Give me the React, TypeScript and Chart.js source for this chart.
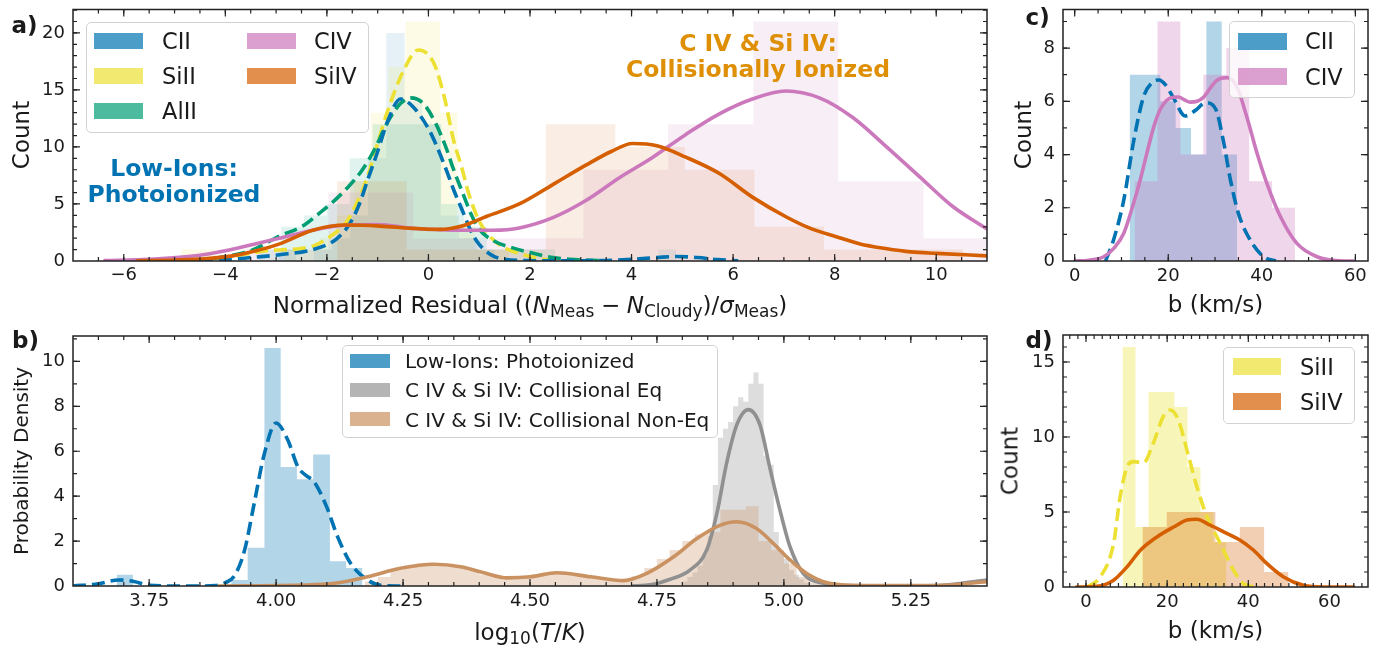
import React, { useEffect, useRef } from "react";
import { Chart, registerables } from "chart.js";

Chart.register(...registerables);

const FONT = '"DejaVu Sans", "Liberation Sans", Arial, sans-serif';
const INK = "#1a1a1a";

// seaborn "colorblind" palette
const C_BLUE = [1, 115, 178];
const C_YELLOW = [236, 225, 51];
const C_GREEN = [2, 158, 115];
const C_PINK = [204, 120, 188];
const C_RED = [213, 94, 0];
const C_ORANGE = [222, 143, 5];
const C_GRAY = [144, 144, 144];
const C_TAN = [202, 145, 97];
const rgba = (c: number[], a = 1) => `rgba(${c[0]},${c[1]},${c[2]},${a})`;

// ---------------- a) normalized residuals ----------------
const resXTicks = [-6, -4, -2, 0, 2, 4, 6, 8, 10];
const resYTicks = [0, 5, 10, 15, 20];

const resCIIEdges = [-2.97, -2.61, -2.26, -1.9, -1.54, -1.19, -0.83, -0.47, -0.12, 0.24, 0.6, 0.96, 1.31, 4.53, 4.88];
const resCIICounts = [1, 0, 1, 2, 4, 9, 20, 14, 12, 4, 2, 1, 0, 1];
const resSiIIEdges = [-4.87, -4.53, -4.19, -2.83, -2.49, -2.15, -1.81, -1.47, -1.13, -0.79, -0.45, -0.11, 0.23, 0.57, 0.91, 1.25, 1.59];
const resSiIICounts = [1, 1, 0, 1, 1, 2, 4, 7, 13, 17, 21, 21, 13, 3, 1, 1];
const resAlIIEdges = [-3.35, -2.9, -2.45, -2.0, -1.55, -1.1, -0.65, -0.2, 0.25, 0.7, 1.15, 1.6, 2.05, 2.5];
const resAlIICounts = [1, 3, 4, 5, 9, 12, 12, 12, 5, 3, 1, 1, 1];
const resCIVEdges = [-3.64, -1.97, -0.3, 1.38, 3.05, 4.72, 6.4, 8.07, 9.75, 11.42];
const resCIVCounts = [1, 6, 2, 2, 8, 12, 21, 7, 2];
const resSiIVEdges = [-1.8, -0.43, 0.94, 2.31, 3.68, 5.05, 6.42, 7.79, 9.16, 10.53];
const resSiIVCounts = [7, 1, 1, 12, 10, 8, 3, 1, 1];

const kdeCIIx = [-4.5, -4.0, -3.5, -2.93, -2.28, -1.82, -1.56, -1.36, -1.19, -1.0, -0.8, -0.55, -0.3, 0.0, 0.15, 0.35, 0.5, 0.68, 0.84, 1.0, 1.27, 1.5, 2.0, 2.5, 3.0, 3.5, 4.0, 4.5, 4.9, 5.3, 5.7, 6.1];
const kdeCIIy = [0.0, 0.1, 0.3, 0.55, 1.0, 1.9, 3.2, 5.0, 7.2, 9.6, 12.3, 14.2, 13.5, 11.6, 10.2, 8.0, 6.2, 4.3, 2.6, 1.45, 0.45, 0.15, 0.03, 0.01, 0.02, 0.05, 0.15, 0.3, 0.4, 0.3, 0.12, 0.02];
const kdeSiIIx = [-4.9, -4.2, -3.86, -3.2, -2.5, -2.25, -1.95, -1.62, -1.42, -1.23, -1.03, -0.8, -0.5, -0.2, 0.1, 0.3, 0.5, 0.65, 0.8, 1.0, 1.2, 1.5, 1.8, 2.2, 2.5];
const kdeSiIIy = [0.0, 0.2, 0.4, 0.9, 1.1, 1.35, 2.1, 3.4, 5.0, 7.0, 9.9, 13.2, 16.6, 18.5, 17.4, 14.6, 10.5, 8.3, 5.8, 3.5, 2.2, 1.15, 0.65, 0.2, 0.05];
const kdeAlIIx = [-4.6, -4.0, -3.5, -2.93, -2.5, -2.2, -1.9, -1.6, -1.3, -1.06, -0.8, -0.55, -0.35, -0.1, 0.15, 0.35, 0.48, 0.68, 0.84, 1.0, 1.27, 1.66, 2.05, 2.45, 3.1, 3.6];
const kdeAlIIy = [0.0, 0.4, 0.9, 2.2, 3.0, 4.0, 5.1, 6.4, 8.0, 9.8, 12.2, 13.8, 14.3, 13.8, 12.0, 9.9, 8.2, 5.9, 4.1, 2.8, 1.8, 1.15, 0.7, 0.3, 0.08, 0.0];
const kdeCIVx = [-6.4, -5.5, -4.5, -4.0, -3.5, -2.93, -2.28, -1.6, -1.0, -0.31, 0.2, 0.68, 1.27, 1.79, 2.45, 3.1, 3.76, 4.42, 5.07, 5.73, 6.38, 7.04, 7.7, 8.35, 9.0, 9.67, 10.32, 11.0];
const kdeCIVy = [0.03, 0.15, 0.5, 0.9, 1.4, 2.0, 2.7, 3.15, 3.2, 2.86, 2.75, 2.7, 2.7, 2.9, 3.8, 5.3, 7.3, 9.1, 11.1, 12.9, 14.2, 14.9, 14.3, 12.6, 10.1, 7.4, 4.8, 2.8];
const kdeSiIVx = [-5.75, -5.0, -4.5, -3.86, -3.4, -2.93, -2.28, -1.62, -0.96, -0.31, 0.22, 0.68, 1.14, 1.79, 2.45, 3.1, 3.6, 4.02, 4.5, 5.07, 5.73, 6.38, 7.04, 7.5, 8.03, 8.5, 9.0, 9.5, 10.0, 11.0];
const kdeSiIVy = [0.02, 0.08, 0.18, 0.45, 0.9, 1.5, 2.7, 3.15, 3.06, 2.86, 2.77, 3.1, 3.9, 5.0, 6.7, 8.4, 9.6, 10.3, 10.1, 9.1, 7.67, 5.6, 3.88, 2.9, 2.13, 1.5, 1.1, 0.8, 0.67, 0.45];

// ---------------- b) temperature distributions ----------------
const tempXTicks = [3.75, 4.0, 4.25, 4.5, 4.75, 5.0, 5.25];
const tempYTicks = [0, 2, 4, 6, 8, 10];

const tempLowEdges = [3.686, 3.718, 3.912, 3.944, 3.977, 4.009, 4.041, 4.073, 4.106, 4.138, 4.17];
const tempLowDensity = [0.5, 0, 0.27, 1.7, 10.6, 5.3, 4.75, 5.85, 1.1, 0.8];
const tempEqEdges = [4.8, 4.81, 4.82, 4.83, 4.84, 4.85, 4.86, 4.87, 4.88, 4.89, 4.9, 4.91, 4.92, 4.93, 4.94, 4.95, 4.96, 4.97, 4.98, 4.99, 5.0, 5.01, 5.02, 5.03, 5.04, 5.05];
const tempEqDensity = [0.2, 0.4, 0.6, 0.9, 1.4, 2.2, 4.5, 6.6, 7.0, 7.3, 8.0, 8.4, 8.2, 9.0, 9.5, 9.0, 5.8, 5.4, 2.4, 1.5, 1.2, 0.7, 0.5, 0.3, 0.15];
const tempNeqEdges = [4.175, 4.2, 4.225, 4.25, 4.275, 4.3, 4.325, 4.35, 4.375, 4.4, 4.425, 4.45, 4.475, 4.5, 4.525, 4.55, 4.575, 4.6, 4.625, 4.65, 4.675, 4.7, 4.725, 4.75, 4.775, 4.8, 4.825, 4.85, 4.875, 4.9, 4.925, 4.95, 4.975, 5.0, 5.025, 5.05, 5.075];
const tempNeqDensity = [0.2, 0.4, 0.7, 0.9, 1.0, 1.0, 1.0, 0.9, 0.7, 0.5, 0.4, 0.35, 0.4, 0.5, 0.6, 0.6, 0.55, 0.45, 0.35, 0.3, 0.3, 0.45, 0.8, 1.2, 1.6, 2.0, 2.3, 2.4, 3.4, 3.4, 3.55, 2.0, 1.6, 1.0, 0.4, 0.15];

const kdeLowX = [3.6, 3.65, 3.69, 3.72, 3.75, 3.8, 3.85, 3.88, 3.9, 3.918, 3.938, 3.957, 3.977, 4.0, 4.023, 4.043, 4.06, 4.075, 4.1, 4.121, 4.147, 4.18, 4.206, 4.245];
const kdeLowY = [0.0, 0.1, 0.27, 0.2, 0.03, 0.0, 0.0, 0.02, 0.15, 0.45, 1.6, 3.7, 5.9, 7.26, 6.5, 5.3, 4.9, 4.64, 3.5, 2.2, 1.0, 0.27, 0.03, 0.0];
const kdeEqX = [4.7, 4.737, 4.776, 4.815, 4.848, 4.868, 4.887, 4.907, 4.93, 4.953, 4.972, 4.992, 5.012, 5.038, 5.077, 5.12, 5.2, 5.3, 5.35, 5.4];
const kdeEqY = [0.0, 0.05, 0.3, 0.71, 1.6, 3.23, 5.45, 7.16, 7.85, 7.16, 5.3, 3.4, 1.75, 0.56, 0.12, 0.02, 0.0, 0.02, 0.12, 0.27];
const kdeNeqX = [3.885, 4.05, 4.115, 4.18, 4.245, 4.311, 4.363, 4.409, 4.455, 4.501, 4.553, 4.619, 4.684, 4.73, 4.783, 4.828, 4.874, 4.907, 4.946, 4.979, 5.012, 5.045, 5.09, 5.16, 5.3, 5.4];
const kdeNeqY = [0.0, 0.04, 0.12, 0.41, 0.79, 0.97, 0.86, 0.59, 0.36, 0.41, 0.59, 0.41, 0.24, 0.56, 1.3, 2.1, 2.7, 2.86, 2.56, 1.9, 1.16, 0.56, 0.12, 0.02, 0.02, 0.19];

// ---------------- c) Doppler b, carbon ----------------
const bXTicks = [0, 20, 40, 60];
const bCYTicks = [0, 2, 4, 6, 8];
const bCIIEdges = [11.75, 15.03, 18.31, 21.59, 24.87, 28.15, 31.43, 34.71];
const bCIICounts = [7, 7, 6, 5, 4, 9, 4];
const bCIVEdges = [12.8, 17.7, 22.6, 27.5, 32.4, 37.3, 42.2, 47.1];
const bCIVCounts = [3, 9, 4, 7, 8, 3, 2];
const kdeBCIIx = [6.6, 8.3, 10.5, 12.6, 14.7, 16.5, 18.0, 19.5, 21.2, 23.6, 25.8, 28.0, 30.1, 31.8, 33.3, 35.0, 37.5, 40.4, 43.0];
const kdeBCIIy = [0.0, 0.79, 2.3, 4.5, 6.16, 6.7, 6.8, 6.6, 6.1, 5.45, 5.66, 5.95, 5.72, 4.5, 3.04, 1.79, 0.79, 0.16, 0.0];
const kdeBCIVx = [-0.2, 3.0, 6.2, 8.5, 10.5, 12.3, 14.0, 15.5, 16.9, 18.3, 19.7, 21.0, 22.2, 23.5, 24.7, 26.2, 27.6, 29.0, 30.4, 32.6, 34.7, 36.8, 39.0, 41.1, 44.0, 47.5, 51.8, 57.5, 59.7];
const kdeBCIVy = [0.0, 0.03, 0.16, 0.5, 1.04, 2.0, 3.04, 4.1, 5.04, 5.7, 6.04, 6.15, 6.16, 6.05, 5.97, 6.0, 6.16, 6.5, 6.79, 6.89, 6.54, 5.41, 4.04, 2.91, 1.66, 0.66, 0.16, 0.0, 0.0];

// ---------------- d) Doppler b, silicon ----------------
const bSYTicks = [0, 5, 10, 15];
const bSiIIEdges = [9.0, 12.2, 15.4, 18.6, 21.8, 25.0, 28.2, 31.4, 34.6];
const bSiIICounts = [16, 4, 13, 13, 12, 8, 5, 3];
const bSiIVEdges = [13.9, 19.9, 25.9, 31.9, 37.9, 43.9, 49.9];
const bSiIVCounts = [4, 5, 5, 3, 4, 1];
const kdeBSiIIx = [0.2, 3.5, 6.8, 8.4, 10.1, 11.7, 14.2, 16.6, 19.1, 20.8, 22.8, 24.9, 27.3, 29.8, 33.1, 36.4, 38.8, 42.0];
const kdeBSiIIy = [0.0, 0.67, 2.9, 6.0, 8.0, 8.36, 8.29, 9.6, 11.4, 11.8, 11.1, 9.1, 6.7, 4.7, 2.9, 1.1, 0.22, 0.0];
const kdeBSiIVx = [-2.6, 2.7, 6.8, 10.1, 13.4, 17.5, 21.6, 24.9, 27.3, 30.6, 33.9, 38.0, 41.3, 44.6, 48.7, 53.6, 58.5, 66.3];
const kdeBSiIVy = [0.0, 0.04, 0.45, 1.34, 2.45, 3.34, 4.0, 4.46, 4.52, 4.12, 3.68, 3.12, 2.45, 1.56, 0.67, 0.11, 0.0, 0.0];

// ---------------- helpers ----------------
type Pt = { x: number; y: number };
const zip = (xs: number[], ys: number[]): Pt[] => xs.map((x, i) => ({ x, y: ys[i] }));

// outline of a filled histogram as a stepped polyline
function steps(edges: number[], counts: number[]): Pt[] {
  const pts: Pt[] = [{ x: edges[0], y: 0 }];
  counts.forEach((c, i) => pts.push({ x: edges[i], y: c }));
  const last = edges[edges.length - 1];
  pts.push({ x: last, y: counts[counts.length - 1] });
  pts.push({ x: last, y: 0 });
  return pts;
}

const histSet = (edges: number[], counts: number[], color: number[], alpha: number, order: number) => ({
  data: steps(edges, counts),
  stepped: true,
  fill: "origin",
  backgroundColor: rgba(color, alpha),
  borderColor: "rgba(0,0,0,0)",
  borderWidth: 0,
  pointRadius: 0,
  order,
});

const kdeSet = (xs: number[], ys: number[], color: number[], dashed: boolean, order: number) => ({
  data: zip(xs, ys),
  borderColor: rgba(color),
  borderWidth: 3.6,
  borderDash: dashed ? [13, 6] : [],
  borderCapStyle: "butt",
  pointRadius: 0,
  fill: false,
  cubicInterpolationMode: "monotone",
  order,
});

// tick positions between min and max every `step`
function every(min: number, max: number, step: number): number[] {
  const out: number[] = [];
  for (let k = Math.ceil(min / step - 1e-9); k * step <= max + 1e-9; k++) out.push(+(k * step).toFixed(6));
  return out;
}

// spines on all four sides with inward major/minor ticks
const framePlugin = {
  id: "frame",
  afterDraw(chart: any, _args: any, o: any) {
    const { ctx, chartArea: a } = chart;
    const sx = chart.scales.x;
    const sy = chart.scales.y;
    ctx.save();
    ctx.strokeStyle = "#222";
    ctx.lineWidth = 1.2;
    const vt = (vals: number[], len: number) => {
      for (const v of vals) {
        const p = sx.getPixelForValue(v);
        if (p < a.left + 0.5 || p > a.right - 0.5) continue;
        ctx.beginPath();
        ctx.moveTo(p, a.bottom);
        ctx.lineTo(p, a.bottom - len);
        ctx.moveTo(p, a.top);
        ctx.lineTo(p, a.top + len);
        ctx.stroke();
      }
    };
    const ht = (vals: number[], len: number) => {
      for (const v of vals) {
        const p = sy.getPixelForValue(v);
        if (p < a.top + 0.5 || p > a.bottom - 0.5) continue;
        ctx.beginPath();
        ctx.moveTo(a.left, p);
        ctx.lineTo(a.left + len, p);
        ctx.moveTo(a.right, p);
        ctx.lineTo(a.right - len, p);
        ctx.stroke();
      }
    };
    vt(o.xMinor, 4);
    ht(o.yMinor, 4);
    vt(o.xMajor, 7);
    ht(o.yMajor, 7);
    ctx.lineWidth = 1.5;
    ctx.strokeRect(a.left, a.top, a.right - a.left, a.bottom - a.top);
    ctx.restore();
  },
};

type PanelCfg = {
  datasets: any[];
  xMin: number; xMax: number; yMin: number; yMax: number;
  xTicks: number[]; yTicks: number[];
  xMinorStep: number; yMinorStep: number;
  xFmt: (v: number) => string;
  padding: { left: number; right: number; top: number; bottom: number };
  yW: number; xH: number;
  xPad: number;
};

const minusFmt = (v: number) => (v < 0 ? "\u2212" + Math.abs(v) : String(v));

function makeChart(canvas: HTMLCanvasElement, c: PanelCfg) {
  const tickFont = { family: FONT, size: 18 };
  return new Chart(canvas, {
    type: "line",
    data: { datasets: c.datasets },
    options: {
      animation: false,
      responsive: false,
      events: [],
      layout: { padding: c.padding },
      plugins: {
        legend: { display: false },
        tooltip: { enabled: false },
        frame: {
          xMajor: c.xTicks,
          yMajor: c.yTicks,
          xMinor: every(c.xMin, c.xMax, c.xMinorStep),
          yMinor: every(c.yMin, c.yMax, c.yMinorStep),
        },
      },
      scales: {
        x: {
          type: "linear",
          min: c.xMin,
          max: c.xMax,
          afterBuildTicks: (s: any) => { s.ticks = c.xTicks.map((v) => ({ value: v })); },
          afterFit: (s: any) => { s.height = c.xH; s.paddingLeft = 0; s.paddingRight = 0; },
          ticks: { callback: (v: any) => c.xFmt(Number(v)), font: tickFont, color: INK, padding: c.xPad, maxRotation: 0, autoSkip: false },
          grid: { display: false, drawTicks: false },
          border: { display: false },
        },
        y: {
          type: "linear",
          min: c.yMin,
          max: c.yMax,
          afterBuildTicks: (s: any) => { s.ticks = c.yTicks.map((v) => ({ value: v })); },
          afterFit: (s: any) => { s.width = c.yW; s.paddingTop = 0; s.paddingBottom = 0; },
          ticks: { callback: (v: any) => String(v), font: tickFont, color: INK, padding: 8, autoSkip: false },
          grid: { display: false, drawTicks: false },
          border: { display: false },
        },
      },
    } as any,
    plugins: [framePlugin as any],
  });
}

function Panel(props: { left: number; top: number; width: number; height: number; cfg: () => PanelCfg }) {
  const ref = useRef<HTMLCanvasElement>(null);
  useEffect(() => {
    if (!ref.current) return;
    const chart = makeChart(ref.current, props.cfg());
    return () => chart.destroy();
  }, []);
  return (
    <canvas
      ref={ref}
      width={props.width}
      height={props.height}
      style={{ position: "absolute", left: props.left, top: props.top, width: props.width, height: props.height }}
    />
  );
}

const cfgA = (): PanelCfg => ({
  datasets: [
    kdeSet(kdeSiIVx, kdeSiIVy, C_RED, false, 0),
    kdeSet(kdeCIVx, kdeCIVy, C_PINK, false, 1),
    kdeSet(kdeCIIx, kdeCIIy, C_BLUE, true, 2),
    kdeSet(kdeAlIIx, kdeAlIIy, C_GREEN, true, 3),
    kdeSet(kdeSiIIx, kdeSiIIy, C_YELLOW, true, 4),
    histSet(resSiIVEdges, resSiIVCounts, C_RED, 0.11, 10),
    histSet(resCIVEdges, resCIVCounts, C_PINK, 0.13, 11),
    histSet(resAlIIEdges, resAlIICounts, C_GREEN, 0.12, 12),
    histSet(resSiIIEdges, resSiIICounts, C_YELLOW, 0.12, 13),
    histSet(resCIIEdges, resCIICounts, C_BLUE, 0.1, 14),
  ],
  xMin: -7, xMax: 11, yMin: 0, yMax: 22.05,
  xTicks: resXTicks, yTicks: resYTicks,
  xMinorStep: 0.5, yMinorStep: 1,
  xFmt: minusFmt,
  padding: { left: 0, right: 13, top: 9.5, bottom: 0 },
  yW: 73, xH: 39, xPad: 4,
});

const cfgB = (): PanelCfg => ({
  datasets: [
    kdeSet(kdeNeqX, kdeNeqY, C_TAN, false, 0),
    kdeSet(kdeEqX, kdeEqY, C_GRAY, false, 1),
    kdeSet(kdeLowX, kdeLowY, C_BLUE, true, 2),
    histSet(tempNeqEdges, tempNeqDensity, C_TAN, 0.3, 10),
    histSet(tempEqEdges, tempEqDensity, C_GRAY, 0.3, 11),
    histSet(tempLowEdges, tempLowDensity, C_BLUE, 0.3, 12),
  ],
  xMin: 3.6, xMax: 5.4, yMin: 0, yMax: 11.13,
  xTicks: tempXTicks, yTicks: tempYTicks,
  xMinorStep: 0.05, yMinorStep: 1,
  xFmt: (v) => v.toFixed(2),
  padding: { left: 0, right: 13, top: 16, bottom: 0 },
  yW: 73, xH: 65, xPad: 5,
});

const cfgC = (): PanelCfg => ({
  datasets: [
    kdeSet(kdeBCIVx, kdeBCIVy, C_PINK, false, 0),
    kdeSet(kdeBCIIx, kdeBCIIy, C_BLUE, true, 1),
    histSet(bCIVEdges, bCIVCounts, C_PINK, 0.3, 10),
    histSet(bCIIEdges, bCIICounts, C_BLUE, 0.3, 11),
  ],
  xMin: -2.5, xMax: 62.7, yMin: 0, yMax: 9.45,
  xTicks: bXTicks, yTicks: bCYTicks,
  xMinorStep: 5, yMinorStep: 1,
  xFmt: minusFmt,
  padding: { left: 0, right: 16, top: 9.5, bottom: 0 },
  yW: 63, xH: 39, xPad: 5,
});

const cfgD = (): PanelCfg => ({
  datasets: [
    kdeSet(kdeBSiIVx, kdeBSiIVy, C_RED, false, 0),
    kdeSet(kdeBSiIIx, kdeBSiIIy, C_YELLOW, true, 1),
    histSet(bSiIVEdges, bSiIVCounts, C_RED, 0.3, 10),
    histSet(bSiIIEdges, bSiIICounts, C_YELLOW, 0.35, 11),
  ],
  xMin: -5.67, xMax: 69.5, yMin: 0, yMax: 16.8,
  xTicks: bXTicks, yTicks: bSYTicks,
  xMinorStep: 2, yMinorStep: 1,
  xFmt: minusFmt,
  padding: { left: 0, right: 16, top: 15, bottom: 0 },
  yW: 63, xH: 64, xPad: 5,
});

// ---------------- text ----------------
function Txt(p: { x: number; base: number; size: number; bold?: boolean; color?: string; center?: boolean; children: React.ReactNode }) {
  return (
    <div
      style={{
        position: "absolute",
        left: p.x,
        top: p.base - 0.846 * p.size,
        fontFamily: FONT,
        fontSize: p.size,
        lineHeight: `${p.size}px`,
        fontWeight: p.bold ? "bold" : "normal",
        color: p.color || INK,
        whiteSpace: "nowrap",
        transform: p.center ? "translateX(-50%)" : undefined,
        textAlign: "center",
      }}
    >
      {p.children}
    </div>
  );
}

function VTxt(p: { cx: number; cy: number; size: number; children: React.ReactNode }) {
  return (
    <div
      style={{
        position: "absolute",
        left: p.cx,
        top: p.cy,
        transform: "translate(-50%, -50%) rotate(-90deg)",
        fontFamily: FONT,
        fontSize: p.size,
        lineHeight: `${p.size}px`,
        color: INK,
        whiteSpace: "nowrap",
      }}
    >
      {p.children}
    </div>
  );
}

const Sub = (p: { children: React.ReactNode }) => (
  <span style={{ fontSize: "0.74em", position: "relative", top: "0.28em" }}>{p.children}</span>
);
const It = (p: { children: React.ReactNode }) => <span style={{ fontStyle: "italic" }}>{p.children}</span>;
const Op = (p: { children: React.ReactNode }) => <span style={{ margin: "0 0.28em" }}>{p.children}</span>;

type LegendItem = { label: string; color: string; px: number; pw: number; ph: number; tx: number; cy: number };
function Legend(p: { l: number; t: number; r: number; b: number; size: number; items: LegendItem[] }) {
  return (
    <>
      <div
        style={{
          position: "absolute",
          left: p.l,
          top: p.t,
          width: p.r - p.l,
          height: p.b - p.t,
          boxSizing: "border-box",
          border: "1.3px solid #d2d2d2",
          borderRadius: 5,
          background: "rgba(255,255,255,0.8)",
        }}
      />
      {p.items.map((it) => (
        <React.Fragment key={it.label}>
          <div style={{ position: "absolute", left: it.px, top: it.cy - it.ph / 2, width: it.pw, height: it.ph, background: it.color }} />
          <Txt x={it.tx} base={it.cy + 0.3645 * p.size} size={p.size}>
            {it.label}
          </Txt>
        </React.Fragment>
      ))}
    </>
  );
}

export default function App() {
  return (
    <div style={{ position: "absolute", left: 0, top: 0, width: 1384, height: 651, overflow: "hidden", background: "#fff" }}>
      <Panel left={0} top={0} width={1000} height={300} cfg={cfgA} />
      <Panel left={0} top={320} width={1000} height={331} cfg={cfgB} />
      <Panel left={1000} top={0} width={384} height={300} cfg={cfgC} />
      <Panel left={1000} top={320} width={384} height={331} cfg={cfgD} />

      {/* panel letters */}
      <Txt x={11.5} base={33.5} size={23} bold>a)</Txt>
      <Txt x={12} base={348.5} size={23} bold>b)</Txt>
      <Txt x={1025.5} base={25.5} size={23} bold>c)</Txt>
      <Txt x={1025.5} base={348.5} size={23} bold>d)</Txt>

      {/* axis titles */}
      <VTxt cx={20.5} cy={135.3} size={23}>Count</VTxt>
      <VTxt cx={20.6} cy={461} size={20}>Probability Density</VTxt>
      <VTxt cx={1023.4} cy={135.3} size={23}>Count</VTxt>
      <VTxt cx={1010} cy={461} size={23}>Count</VTxt>

      <Txt x={530} base={313} size={23} center>
        Normalized Residual ((<It>N</It><Sub>Meas</Sub><Op>−</Op><It>N</It><Sub>Cloudy</Sub>)/<It>σ</It><Sub>Meas</Sub>)
      </Txt>
      <Txt x={530} base={640} size={23} center>
        log<Sub>10</Sub>(<It>T</It>/<It>K</It>)
      </Txt>
      <Txt x={1215.5} base={312} size={23} center>b (km/s)</Txt>
      <Txt x={1215.5} base={638.7} size={23} center>b (km/s)</Txt>

      {/* annotations in panel a */}
      <Txt x={174} base={176.7} size={23.5} bold color={rgba(C_BLUE)} center>Low-Ions:</Txt>
      <Txt x={174} base={202.7} size={23.5} bold color={rgba(C_BLUE)} center>Photoionized</Txt>
      <Txt x={758} base={51.7} size={23.5} bold color={rgba(C_ORANGE)} center>C IV &amp; Si IV:</Txt>
      <Txt x={758} base={77.7} size={23.5} bold color={rgba(C_ORANGE)} center>Collisionally Ionized</Txt>

      {/* legends */}
      <Legend
        l={86} t={21.7} r={369} b={133.3} size={22.5}
        items={[
          { label: "CII", color: rgba(C_BLUE, 0.7), px: 94, pw: 49, ph: 16, tx: 162, cy: 40.7 },
          { label: "SiII", color: rgba(C_YELLOW, 0.7), px: 94, pw: 49, ph: 16, tx: 162, cy: 76 },
          { label: "AlII", color: rgba(C_GREEN, 0.7), px: 94, pw: 49, ph: 16, tx: 162, cy: 111 },
          { label: "CIV", color: rgba(C_PINK, 0.7), px: 247, pw: 49, ph: 16, tx: 314, cy: 40.7 },
          { label: "SiIV", color: rgba(C_RED, 0.7), px: 247, pw: 49, ph: 16, tx: 314, cy: 76 },
        ]}
      />
      <Legend
        l={341.7} t={345} r={717.7} b={438.3} size={20}
        items={[
          { label: "Low-Ions: Photoionized", color: rgba(C_BLUE, 0.7), px: 350, pw: 40, ph: 14, tx: 405, cy: 361 },
          { label: "C IV & Si IV: Collisional Eq", color: rgba([148, 148, 148], 0.7), px: 350, pw: 40, ph: 14, tx: 405, cy: 390 },
          { label: "C IV & Si IV: Collisional Non-Eq", color: rgba(C_TAN, 0.7), px: 350, pw: 40, ph: 14, tx: 405, cy: 419.3 },
        ]}
      />
      <Legend
        l={1229.3} t={20.7} r={1355} b={98.3} size={22.5}
        items={[
          { label: "CII", color: rgba(C_BLUE, 0.7), px: 1238.3, pw: 48.4, ph: 17, tx: 1305, cy: 41 },
          { label: "CIV", color: rgba(C_PINK, 0.7), px: 1238.3, pw: 48.4, ph: 17, tx: 1305, cy: 76.7 },
        ]}
      />
      <Legend
        l={1223.3} t={347.3} r={1355} b={424} size={22.5}
        items={[
          { label: "SiII", color: rgba(C_YELLOW, 0.7), px: 1232.7, pw: 48.3, ph: 17, tx: 1300, cy: 366.7 },
          { label: "SiIV", color: rgba(C_RED, 0.7), px: 1232.7, pw: 48.3, ph: 17, tx: 1300, cy: 401.7 },
        ]}
      />
    </div>
  );
}
